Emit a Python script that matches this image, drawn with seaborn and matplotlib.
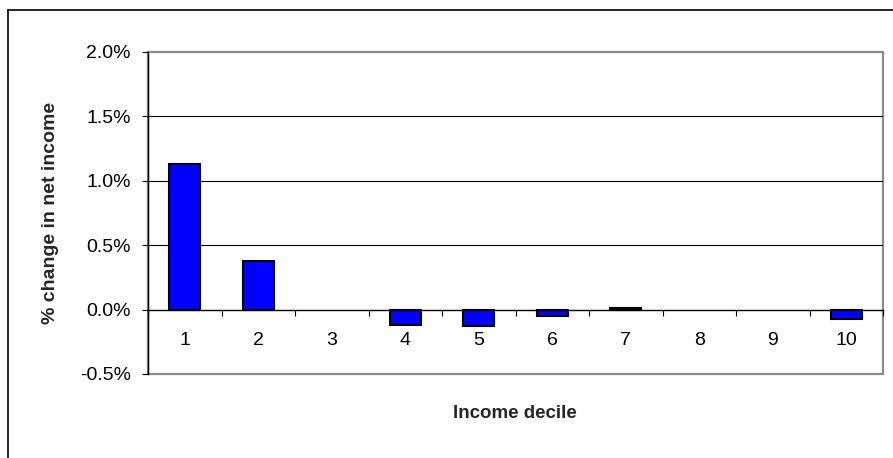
import numpy as np
import pandas as pd
import matplotlib
matplotlib.use("Agg")
import matplotlib.pyplot as plt
import seaborn as sns
from matplotlib.lines import Line2D
from matplotlib.patches import Rectangle
from matplotlib.ticker import FuncFormatter, FixedLocator

# data
deciles = ["1", "2", "3", "4", "5", "6", "7", "8", "9", "10"]
pct_change = [1.13, 0.38, 0.0, -0.12, -0.13, -0.05, 0.015, 0.0, 0.0, -0.07]
y_ticks = [-0.5, 0.0, 0.5, 1.0, 1.5, 2.0]
grid_levels = [0.5, 1.0, 1.5]

df = pd.DataFrame({"decile": deciles, "change": pct_change})

sns.set_theme(style="white")
plt.rcParams["font.family"] = ["Liberation Sans", "DejaVu Sans"]

fig = plt.figure(figsize=(8.93, 4.58), dpi=100)
ax = fig.add_axes([148 / 893, 1 - 374 / 458, (883 - 148) / 893, (374 - 52) / 458])

sns.barplot(data=df, x="decile", y="change", color="#0000FF", saturation=1,
            width=0.42, edgecolor="black", linewidth=1.5, ax=ax, zorder=3)

# zero-valued deciles show no bar at all
for p in ax.patches:
    if abs(p.get_height()) < 1e-9:
        p.set_visible(False)

ax.set_ylim(-0.5, 2.0)
ax.set_xlim(-0.5, 9.5)

# gridlines
for g in grid_levels:
    ax.axhline(g, color="black", lw=0.8, zorder=1)

# spines: left black, bottom moved to zero, frame in grey
for s in ["top", "right"]:
    ax.spines[s].set_visible(False)
ax.spines["left"].set_color("black")
ax.spines["left"].set_linewidth(1.0)
ax.spines["bottom"].set_position(("data", 0))
ax.spines["bottom"].set_color("black")
ax.spines["bottom"].set_linewidth(1.0)
ax.spines["bottom"].set_zorder(4)
ax.add_patch(Rectangle((0, 0), 1, 1, transform=ax.transAxes, fill=False,
                       edgecolor="#8c8c8c", lw=1.6, zorder=0.5, clip_on=False))

# y axis
ax.yaxis.set_major_locator(FixedLocator(y_ticks))
ax.yaxis.set_major_formatter(FuncFormatter(lambda v, p: f"{v:.1f}%"))
ax.tick_params(axis="y", which="major", direction="out", length=4.5, width=0.8,
               color="black", left=True, pad=8, labelsize=14, labelcolor="black")

# x axis: labels at centres, ticks between categories
ax.tick_params(axis="x", which="major", length=0, pad=16, labelsize=14, labelcolor="black")
ax.xaxis.set_minor_locator(FixedLocator(np.arange(-0.5, 10, 1.0)))
ax.tick_params(axis="x", which="minor", direction="out", length=4.5, width=0.8,
               color="black", bottom=True)

ax.set_xlabel("")
ax.set_ylabel("")
fig.text(51 / 893, 1 - 213 / 458, "% change in net income", fontsize=14,
         fontweight="bold", rotation=90, ha="center", va="center")
fig.text(515 / 893, 1 - 413 / 458, "Income decile", fontsize=13.5, fontweight="bold",
         ha="center", va="center")

# outer chart border (partly cropped in the reference)
fig.add_artist(Line2D([8 / 893, 1.0], [1 - 10 / 458, 1 - 10 / 458],
                      transform=fig.transFigure, color="black", lw=1.2))
fig.add_artist(Line2D([8 / 893, 8 / 893], [0.0, 1 - 10 / 458],
                      transform=fig.transFigure, color="black", lw=1.2))

fig.savefig("out.png", dpi=100, facecolor="white")
